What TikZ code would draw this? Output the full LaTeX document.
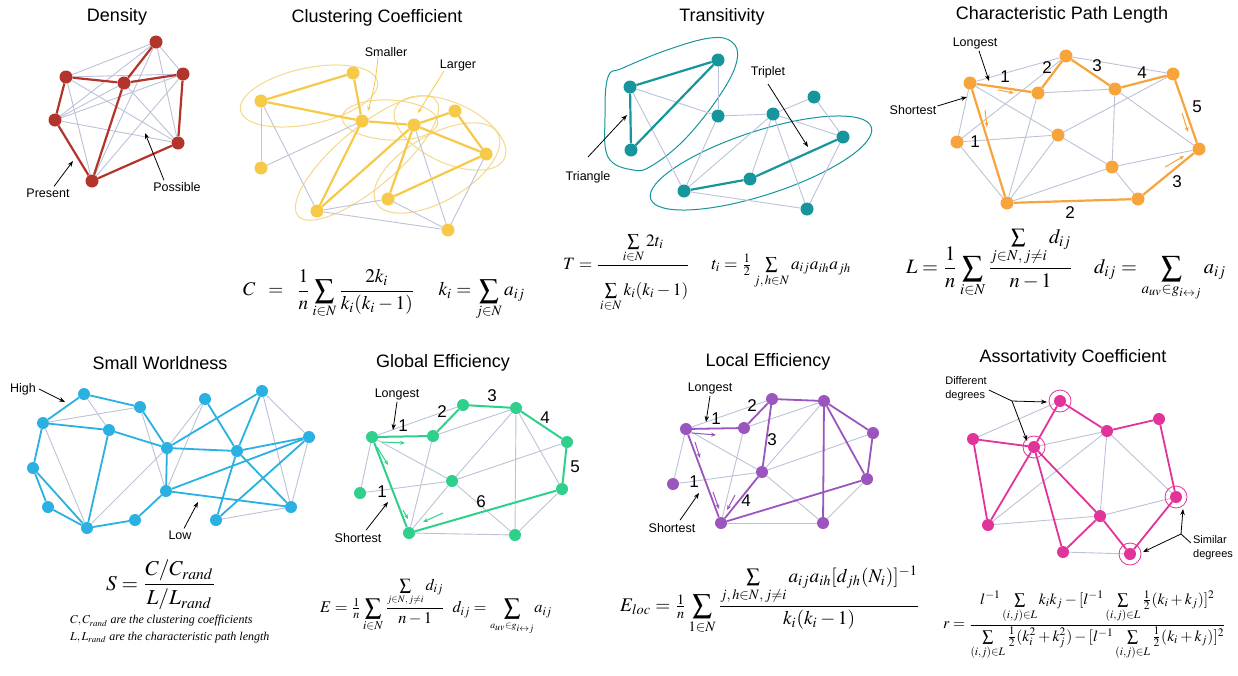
\documentclass[tikz,border=0pt]{standalone}
\usepackage{amsmath}
\usepackage{mathptmx}
\usepackage[no-math]{fontspec}
\setmainfont{Liberation Serif}
\newfontfamily\labfont{Liberation Sans}
\usepackage{graphicx}
\usetikzlibrary{arrows.meta}
\pgfdeclarelayer{back}
\pgfdeclarelayer{bg}
\pgfsetlayers{back,bg,main}
\definecolor{cRed}{HTML}{B3342B}
\definecolor{cYel}{HTML}{F7C948}
\definecolor{cYelL}{HTML}{F5D88A}
\definecolor{cTeal}{HTML}{16969C}
\definecolor{cOr}{HTML}{F8A43C}
\definecolor{cBlue}{HTML}{2BB0E2}
\definecolor{cGrn}{HTML}{2FD08C}
\definecolor{cPur}{HTML}{9B55BE}
\definecolor{cPink}{HTML}{E2339A}
\definecolor{cGrey}{HTML}{BCC3D8}
\begin{document}
\begin{tikzpicture}[x=1pt,y=-1pt,
  dot/.style={circle,fill=#1,inner sep=0pt,minimum size=13pt},
  sdot/.style={circle,fill=#1,inner sep=0pt,minimum size=12pt},
  ge/.style={draw=cGrey,line width=0.9pt},
  ce/.style={draw=#1,line width=2.2pt},
  ttl/.style={font=\labfont\fontsize{18}{20}\selectfont,inner sep=0pt},
  lbl/.style={font=\labfont\fontsize{12.5}{14}\selectfont,inner sep=0pt},
  num/.style={font=\labfont\fontsize{17}{18}\selectfont,inner sep=0pt},
  arr/.style={-{Stealth[length=6pt,width=4.5pt]},line width=0.8pt,black},
  sarr/.style={-{Stealth[length=5pt,width=4pt]},line width=1pt,draw=#1},
  blob/.style={draw=#1,line width=1pt},
  eq/.style={inner sep=0pt,anchor=west}]
\begin{pgfonlayer}{back}
\fill[white] (0,0) rectangle (1238,675);
\end{pgfonlayer}
\useasboundingbox (0,0) rectangle (1238,675);

% ================= Density =================
\node[ttl] (dT) at (117,17) {Density};
\node[dot=cRed] (dA) at (156,42) {};
\node[dot=cRed] (dB) at (66,77) {};
\node[dot=cRed] (dC) at (124,83) {};
\node[dot=cRed] (dD) at (183,74) {};
\node[dot=cRed] (dE) at (55,120) {};
\node[dot=cRed] (dF) at (178,143) {};
\node[dot=cRed] (dG) at (92,181) {};
\begin{pgfonlayer}{bg}
\foreach \a/\b in {dA/dB,dA/dD,dA/dE,dA/dF,dA/dG,dB/dD,dB/dF,dB/dG,dC/dE,dC/dF,dD/dE,dD/dG,dE/dF}
  \draw[ge] (\a) -- (\b);
\foreach \a/\b in {dB/dC,dC/dA,dC/dD,dB/dE,dE/dG,dC/dG,dG/dF,dF/dD}
  \draw[ce=cRed] (\a) -- (\b);
\end{pgfonlayer}
\node[lbl] (dPres) at (48,193) {Present};
\node[lbl] (dPoss) at (177,187) {Possible};
\coordinate (dPresT) at (73,161);
\coordinate (dPossT) at (145,133);
\draw[arr] ([xshift=6pt,yshift=2pt]dPres.north) -- (dPresT);
\draw[arr] ([xshift=-13pt,yshift=2pt]dPoss.north) -- (dPossT);

% ================= Clustering =================
\node[ttl] (cT) at (377,18) {Clustering Coefficient};
\node[dot=cYel] (cA) at (353,73) {};
\node[dot=cYel] (cB) at (261,101) {};
\node[dot=cYel] (cC) at (362,121) {};
\node[dot=cYel] (cD) at (414,125) {};
\node[dot=cYel] (cE) at (455,111) {};
\node[dot=cYel] (cF) at (486,154) {};
\node[dot=cYel] (cG) at (261,168) {};
\node[dot=cYel] (cH) at (317,211) {};
\node[dot=cYel] (cI) at (388,199) {};
\node[dot=cYel] (cJ) at (448,230) {};
\begin{pgfonlayer}{bg}
\draw[blob=cYelL] [rotate around={12:(309,96)}] (309,96) ellipse [x radius=70, y radius=28];
\draw[blob=cYelL] [rotate around={40:(367,158)}] (367,158) ellipse [x radius=90, y radius=30];
\draw[blob=cYelL] [rotate around={-25:(450,133)}] (450,133) ellipse [x radius=60, y radius=30];
\draw[blob=cYelL] [rotate around={30:(437,168)}] (437,168) ellipse [x radius=70, y radius=33];
\draw[blob=cYelL] [rotate around={-3:(390,120)}] (390,120) ellipse [x radius=48, y radius=20];
\foreach \a/\b in {cB/cG,cG/cC,cB/cH,cH/cI,cH/cJ,cD/cJ,cF/cJ,cI/cJ}
  \draw[ge] (\a) -- (\b);
\foreach \a/\b in {cB/cA,cA/cC,cB/cC,cC/cD,cD/cE,cD/cF,cE/cF,cC/cH,cH/cD,cI/cD,cI/cF}
  \draw[ce=cYel] (\a) -- (\b);
\end{pgfonlayer}
\node[lbl] (cSm) at (386,52) {Smaller};
\node[lbl] (cLg) at (458,65) {Larger};
\coordinate (cSmT) at (368,111);
\coordinate (cLgT) at (418,113);
\draw[sarr=cYel,line width=0.8pt] ([xshift=-8pt]cSm.south) to[bend left=5] (cSmT);
\draw[sarr=cYel,line width=0.8pt] ([xshift=-14pt]cLg.south) -- (cLgT);
\node[eq] (cEq) at (243,295) {\resizebox{282pt}{!}{$\displaystyle C\;\;=\;\;\frac{1}{n}\sum_{i\in N}\frac{2k_i}{k_i(k_i-1)}\quad\; k_i=\sum_{j\in N}a_{ij}$}};

% ================= Transitivity =================
\node[ttl] (tT) at (722,17) {Transitivity};
\node[dot=cTeal] (tA) at (630,87) {};
\node[dot=cTeal] (tB) at (718,60) {};
\node[dot=cTeal] (tC) at (631,150) {};
\node[dot=cTeal] (tD) at (718,116) {};
\node[dot=cTeal] (tE) at (773,114) {};
\node[dot=cTeal] (tF) at (814,97) {};
\node[dot=cTeal] (tG) at (843,137) {};
\node[dot=cTeal] (tH) at (750,179) {};
\node[dot=cTeal] (tI) at (684,191) {};
\node[dot=cTeal] (tJ) at (807,209) {};
\begin{pgfonlayer}{bg}
\draw[blob=cTeal] plot[smooth cycle,tension=0.65] coordinates {(608,77) (605,117) (608,157) (633,170) (653,165) (687,137) (722,92) (737,60) (732,42) (710,38) (667,50) (623,68)};
\draw[blob=cTeal] [rotate around={18:(761,163)}] (761,163) ellipse [x radius=116, y radius=32];
\foreach \a/\b in {tB/tD,tA/tD,tA/tI,tD/tE,tD/tI,tE/tF,tE/tI,tE/tH,tE/tG,tE/tJ,tF/tG,tG/tJ,tI/tJ}
  \draw[ge] (\a) -- (\b);
\foreach \a/\b in {tA/tB,tA/tC,tC/tB,tI/tH,tH/tG}
  \draw[ce=cTeal] (\a) -- (\b);
\end{pgfonlayer}
\node[lbl] (tTri) at (588,177) {Triangle};
\node[lbl] (tTpl) at (768,72) {Triplet};
\coordinate (tTriT) at (627,115);
\coordinate (tTplT) at (808,147);
\draw[arr] ([yshift=14pt]tTri.north) -- (tTriT);
\draw[arr] ([yshift=-6pt]tTpl.south) -- (tTplT);
\node[eq] (tEq) at (563,273) {\resizebox{288pt}{!}{$\displaystyle T=\frac{\sum\limits_{i\in N}2t_i\rule[-3pt]{0pt}{0pt}}{\rule{0pt}{16pt}\sum\limits_{i\in N}k_i(k_i-1)}\quad\; t_i=\tfrac{1}{2}\textstyle\sum\limits_{j,\,h\in N}a_{ij}a_{ih}a_{jh}$}};

% ================= Characteristic Path Length =================
\node[ttl] (pT) at (1062,15) {Characteristic Path Length};
\node[dot=cOr] (pA) at (970,83) {};
\node[dot=cOr] (pB) at (1066,56) {};
\node[dot=cOr] (pC) at (1038,93) {};
\node[dot=cOr] (pD) at (1115,89) {};
\node[dot=cOr] (pE) at (1173,74) {};
\node[dot=cOr] (pF) at (957,142) {};
\node[dot=cOr] (pG) at (1058,135) {};
\node[dot=cOr] (pH) at (1199,149) {};
\node[dot=cOr] (pI) at (1112,167) {};
\node[dot=cOr] (pJ) at (1007,203) {};
\node[dot=cOr] (pK) at (1138,199) {};
\begin{pgfonlayer}{bg}
\foreach \a/\b in {pA/pB,pB/pE,pC/pD,pF/pB,pA/pF,pF/pG,pF/pJ,pC/pJ,pG/pJ,pG/pE,pG/pI,pD/pI,pD/pH,pI/pH,pI/pK,pJ/pI,pA/pG}
  \draw[ge] (\a) -- (\b);
\foreach \a/\b in {pA/pC,pC/pB,pB/pD,pD/pE,pE/pH,pH/pK,pK/pJ,pJ/pA}
  \draw[ce=cOr] (\a) -- (\b);
\end{pgfonlayer}
\node[num] (pN1) at (1005,77) {1};
\node[num] (pN2) at (1047,68) {2};
\node[num] (pN3) at (1097,66) {3};
\node[num] (pN4) at (1142,73) {4};
\node[num] (pN5) at (1197,107) {5};
\node[num] (pN6) at (975,142) {1};
\node[num] (pN7) at (1177,182) {3};
\node[num] (pN8) at (1070,213) {2};
\draw[sarr=cOr] (998,90) -- (1014,93);
\draw[sarr=cOr] (985,110) -- (987,127);
\draw[sarr=cOr] (1182,113) -- (1188,132);
\draw[sarr=cOr] (1165,167) -- (1184,156);
\node[lbl] (pLong) at (975,43) {Longest};
\node[lbl] (pShort) at (913,110) {Shortest};
\coordinate (pLongT) at (989,81);
\coordinate (pShortT) at (967,97);
\draw[arr] ([xshift=4pt,yshift=-2pt]pLong.south) -- (pLongT);
\draw[arr] ([xshift=1pt,yshift=4pt]pShort.east) -- (pShortT);
\node[eq] (pEq) at (906,265) {\resizebox{320pt}{!}{$\displaystyle L=\frac1n\sum_{i\in N}\frac{\sum\limits_{j\in N,\,j\neq i}d_{ij}}{n-1}\quad d_{ij}=\sum_{a_{uv}\in g_{i\leftrightarrow j}}a_{ij}$}};

% ================= Small Worldness =================
\node[ttl] (sT) at (160,363) {Small Worldness};
\node[sdot=cBlue] (s1) at (84,394) {};
\node[sdot=cBlue] (s2) at (140,407) {};
\node[sdot=cBlue] (s3) at (43,423) {};
\node[sdot=cBlue] (s4) at (109,430) {};
\node[sdot=cBlue] (s5) at (33,468) {};
\node[sdot=cBlue] (s6) at (48,507) {};
\node[sdot=cBlue] (s7) at (87,528) {};
\node[sdot=cBlue] (s8) at (135,520) {};
\node[sdot=cBlue] (s9) at (167,448) {};
\node[sdot=cBlue] (s10) at (166,491) {};
\node[sdot=cBlue] (s11) at (205,399) {};
\node[sdot=cBlue] (s12) at (262,391) {};
\node[sdot=cBlue] (s13) at (309,437) {};
\node[sdot=cBlue] (s14) at (237,451) {};
\node[sdot=cBlue] (s15) at (291,507) {};
\node[sdot=cBlue] (s16) at (216,520) {};
\begin{pgfonlayer}{bg}
\foreach \a/\b in {s1/s4,s3/s2,s2/s10,s3/s7,s7/s9,s11/s9,s11/s10,s12/s13,s12/s15,s15/s16,s13/s15}
  \draw[ge] (\a) -- (\b);
\foreach \a/\b in {s1/s3,s1/s2,s3/s4,s2/s9,s4/s9,s4/s7,s3/s5,s5/s6,s5/s7,s6/s7,s7/s8,s8/s10,s9/s10,s9/s14,s9/s12,s11/s14,s14/s15,s14/s13,s14/s16,s12/s14,s10/s13,s10/s15,s13/s16}
  \draw[ce=cBlue,line width=1.8pt] (\a) -- (\b);
\end{pgfonlayer}
\node[lbl] (sHigh) at (23,389) {High};
\node[lbl] (sLow) at (180,535) {Low};
\coordinate (sHighT) at (65,402);
\coordinate (sLowT) at (198,502);
\draw[arr] ([xshift=3pt]sHigh.east) -- (sHighT);
\draw[arr] ([xshift=4pt,yshift=2pt]sLow.north) -- (sLowT);
\node[eq] (sEq) at (106,585) {\resizebox{110pt}{!}{$\displaystyle S=\frac{C/C_{rand}}{L/L_{rand}}$}};
\node[eq,font=\fontsize{12}{14}\selectfont\itshape] (sC1) at (70,621) {$C, C_{rand}$ are the clustering coefficients};
\node[eq,font=\fontsize{12}{14}\selectfont\itshape] (sC2) at (70,638) {$L, L_{rand}$ are the characteristic path length};

% ================= Global Efficiency =================
\node[ttl] (gT) at (443,363) {Global Efficiency};
\node[sdot=cGrn] (gA) at (372,437) {};
\node[sdot=cGrn] (gB) at (433,436) {};
\node[sdot=cGrn] (gC) at (463,405) {};
\node[sdot=cGrn] (gD) at (516,408) {};
\node[sdot=cGrn] (gE) at (567,442) {};
\node[sdot=cGrn] (gF) at (360,493) {};
\node[sdot=cGrn] (gG) at (452,481) {};
\node[sdot=cGrn] (gH) at (562,489) {};
\node[sdot=cGrn] (gI) at (409,533) {};
\node[sdot=cGrn] (gJ) at (515,535) {};
\begin{pgfonlayer}{bg}
\foreach \a/\b in {gA/gC,gA/gF,gA/gG,gF/gG,gB/gD,gB/gI,gD/gG,gD/gJ,gD/gH,gG/gE,gG/gI,gG/gJ,gI/gJ,gH/gJ}
  \draw[ge] (\a) -- (\b);
\foreach \a/\b in {gA/gB,gB/gC,gC/gD,gD/gE,gE/gH,gH/gI,gI/gA}
  \draw[ce=cGrn,line width=2pt] (\a) -- (\b);
\end{pgfonlayer}
\node[num] (gN1) at (403,426) {1};
\node[num] (gN2) at (442,412) {2};
\node[num] (gN3) at (492,396) {3};
\node[num] (gN4) at (545,418) {4};
\node[num] (gN5) at (575,467) {5};
\node[num] (gN6) at (382,492) {1};
\node[num] (gN7) at (481,502) {6};
\draw[sarr=cGrn] (382,442) -- (405,443);
\draw[sarr=cGrn] (377,447) -- (388,465);
\draw[sarr=cGrn] (403,510) -- (408,519);
\draw[sarr=cGrn] (443,513) -- (423,522);
\node[lbl] (gLong) at (397,394) {Longest};
\node[lbl] (gShort) at (358,538) {Shortest};
\coordinate (gLongT) at (393,430);
\coordinate (gShortT) at (388,502);
\draw[arr] ([yshift=-2pt]gLong.south) -- (gLongT);
\draw[arr] ([xshift=8pt,yshift=3pt]gShort.north) -- (gShortT);
\node[eq] (gEq) at (320,607) {\resizebox{232pt}{!}{$\displaystyle E=\tfrac1n\sum_{i\in N}\frac{\sum\limits_{\scriptscriptstyle j\in N,\,j\neq i}d_{ij}}{n-1}\;\; d_{ij}=\sum_{\scriptscriptstyle a_{uv}\in g_{i\leftrightarrow j}}\!a_{ij}$}};

% ================= Local Efficiency =================
\node[ttl] (lT) at (768,362) {Local Efficiency};
\node[sdot=cPur] (lA) at (686,429) {};
\node[sdot=cPur] (lB) at (744,428) {};
\node[sdot=cPur] (lC) at (772,399) {};
\node[sdot=cPur] (lD) at (824,401) {};
\node[sdot=cPur] (lE) at (873,433) {};
\node[sdot=cPur] (lF) at (673,484) {};
\node[sdot=cPur] (lG) at (762,472) {};
\node[sdot=cPur] (lH) at (867,479) {};
\node[sdot=cPur] (lI) at (721,523) {};
\node[sdot=cPur] (lJ) at (823,523) {};
\begin{pgfonlayer}{bg}
\foreach \a/\b in {lA/lC,lA/lF,lA/lG,lF/lG,lB/lD,lB/lI,lG/lD,lG/lE,lG/lJ,lI/lJ,lH/lJ}
  \draw[ge] (\a) -- (\b);
\foreach \a/\b in {lA/lB,lB/lC,lC/lD,lC/lG,lG/lI,lA/lI,lD/lJ,lD/lE,lD/lH,lE/lH,lH/lI}
  \draw[ce=cPur,line width=1.8pt] (\a) -- (\b);
\end{pgfonlayer}
\node[num] (lN1) at (716,419) {1};
\node[num] (lN2) at (752,406) {2};
\node[num] (lN3) at (772,440) {3};
\node[num] (lN4) at (694,482) {1};
\node[num] (lN5) at (746,501) {4};
\draw[sarr=cPur] (692,433) -- (716,435);
\draw[sarr=cPur] (695,442) -- (700,458);
\draw[sarr=cPur] (713,492) -- (719,509);
\draw[sarr=cPur] (735,495) -- (727,510);
\node[lbl] (lLong) at (710,388) {Longest};
\node[lbl] (lShort) at (672,528) {Shortest};
\coordinate (lLongT) at (706,422);
\coordinate (lShortT) at (699,493);
\draw[arr] ([yshift=-2pt]lLong.south) -- (lLongT);
\draw[arr] ([xshift=8pt,yshift=3pt]lShort.north) -- (lShortT);
\node[eq] (lEq) at (620,600) {\resizebox{300pt}{!}{$\displaystyle E_{loc}=\tfrac1n\sum_{1\in N}\frac{\sum\limits_{j,\,h\in N,\,j\neq i}a_{ij}a_{ih}[d_{jh}(N_i)]^{-1}}{k_i(k_i-1)}$}};

% ================= Assortativity =================
\node[ttl] (aT) at (1073,358) {Assortativity Coefficient};
\node[sdot=cPink] (aA) at (1060,401) {};
\node[sdot=cPink] (aB) at (1107,431) {};
\node[sdot=cPink] (aC) at (1159,419) {};
\node[sdot=cPink] (aD) at (973,439) {};
\node[sdot=cPink] (aE) at (1034,447) {};
\node[sdot=cPink] (aF) at (1176,497) {};
\node[sdot=cPink] (aG) at (1100,516) {};
\node[sdot=cPink] (aH) at (988,525) {};
\node[sdot=cPink] (aI) at (1063,552) {};
\node[sdot=cPink] (aJ) at (1130,554) {};
\begin{pgfonlayer}{bg}
\foreach \a/\b in {aD/aA,aE/aB,aH/aB,aH/aG,aG/aF,aB/aG,aB/aF,aI/aJ}
  \draw[ge] (\a) -- (\b);
\foreach \a/\b in {aA/aB,aB/aC,aC/aF,aF/aJ,aJ/aG,aG/aI,aI/aE,aE/aA,aE/aD,aD/aH,aH/aE,aE/aG}
  \draw[ce=cPink,line width=1.8pt] (\a) -- (\b);
\end{pgfonlayer}
\foreach \n in {aA,aE,aF,aJ}
  \draw[cPink,line width=0.8pt] (\n.center) circle [radius=11];
\node[lbl,align=left,font=\labfont\fontsize{11}{14}\selectfont] (aDiff) at (966,389) {Different\\degrees};
\node[lbl,align=left,font=\labfont\fontsize{11}{14}\selectfont] (aSim) at (1213,548) {Similar\\degrees};
\coordinate (aDj) at (1012,401);
\coordinate (aDt1) at (1047,402);
\coordinate (aDt2) at (1027,441);
\coordinate (aSj) at (1181,534);
\coordinate (aSt1) at (1183,509);
\coordinate (aSt2) at (1143,552);
\draw[line width=0.8pt] ([xshift=2pt,yshift=-1pt]aDiff.east) -- (aDj);
\draw[arr] (aDj) -- (aDt1);
\draw[arr] (aDj) -- (aDt2);
\draw[line width=0.8pt] ([xshift=-2pt,yshift=5pt]aSim.west) -- (aSj);
\draw[arr] (aSj) -- (aSt1);
\draw[arr] (aSj) -- (aSt2);
\node[eq] (aEq) at (943,625) {\resizebox{283pt}{!}{$\displaystyle r=\frac{l^{-1}\sum\limits_{(i,j)\in L}k_ik_j-[l^{-1}\sum\limits_{(i,j)\in L}\frac12(k_i+k_j)]^2}{\sum\limits_{(i,j)\in L}\frac12(k_i^2+k_j^2)-[l^{-1}\sum\limits_{(i,j)\in L}\frac12(k_i+k_j)]^2}$}};
\end{tikzpicture}
\end{document}
